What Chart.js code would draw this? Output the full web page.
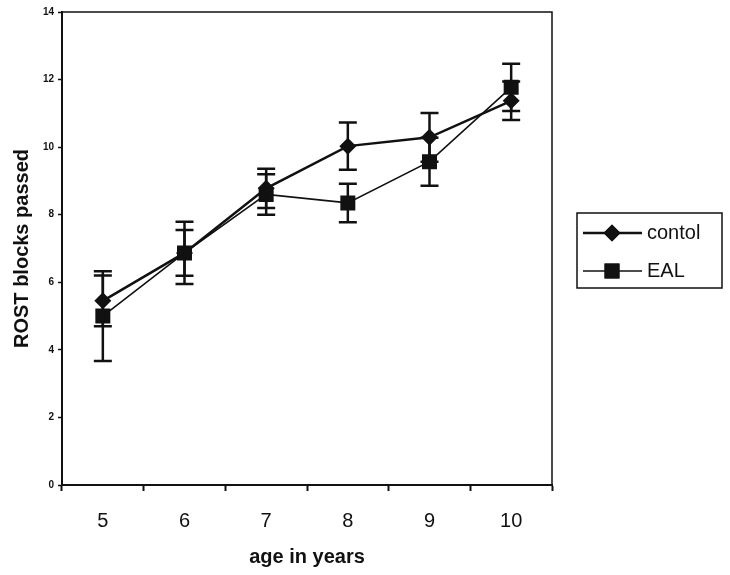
<!DOCTYPE html>
<html>
<head>
<meta charset="utf-8">
<script src="https://cdn.jsdelivr.net/npm/chart.js@4.4.1/dist/chart.umd.min.js"></script>
<style>
  html, body { margin: 0; padding: 0; background: #fff; }
  #wrap { width: 730px; height: 575px; }
</style>
</head>
<body>
<div id="wrap"><canvas id="myChart" width="730" height="575"></canvas></div>
<script>
var ages = ['5', '6', '7', '8', '9', '10'];
var controlMean = [5.45, 6.87, 8.78, 10.03, 10.29, 11.37];
var controlErr = [0.75, 0.92, 0.58, 0.70, 0.72, 0.57];
var ealMean = [5.0, 6.87, 8.6, 8.35, 9.57, 11.77];
var ealErr = [1.33, 0.68, 0.6, 0.57, 0.71, 0.7];
var yTicks = [0, 2, 4, 6, 8, 10, 12, 14];

var errs = [controlErr, ealErr];

// error bars + plot frame
var errorBars = {
   id: 'errorBars',
   afterDatasetsDraw: function(chart) {
      var ctx = chart.ctx;
      var x = chart.scales.x, y = chart.scales.y;
      var a = chart.chartArea;
      ctx.save();
      ctx.strokeStyle = '#111';
      ctx.lineWidth = 2.5;
      chart.data.datasets.forEach(function(ds, i) {
         ds.data.forEach(function(v, j) {
            var px = x.getPixelForValue(j);
            var top = y.getPixelForValue(v + errs[i][j]);
            var bot = y.getPixelForValue(v - errs[i][j]);
            ctx.beginPath();
            ctx.moveTo(px, top); ctx.lineTo(px, bot);
            ctx.moveTo(px - 9, top); ctx.lineTo(px + 9, top);
            ctx.moveTo(px - 9, bot); ctx.lineTo(px + 9, bot);
            ctx.stroke();
         });
      });
      ctx.lineWidth = 1.5;
      ctx.beginPath();
      ctx.moveTo(a.left, a.top); ctx.lineTo(a.right, a.top); ctx.lineTo(a.right, a.bottom);
      ctx.stroke();
      ctx.restore();
   }
};

// boxed legend on the right
var boxLegend = {
   id: 'boxLegend',
   afterDraw: function(chart) {
      var ctx = chart.ctx;
      ctx.save();
      ctx.strokeStyle = '#111';
      ctx.lineWidth = 1.5;
      ctx.strokeRect(577, 213, 145, 75);
      var rows = [233, 271];
      chart.data.datasets.forEach(function(ds, i) {
         var yy = rows[i];
         ctx.lineWidth = ds.borderWidth;
         ctx.beginPath();
         ctx.moveTo(583, yy); ctx.lineTo(642, yy);
         ctx.stroke();
         Chart.helpers.drawPoint(ctx, {
            pointStyle: ds.pointStyle,
            radius: ds.pointRadius,
            borderWidth: 0
         }, 612, yy);
         ctx.fillStyle = '#111';
         ctx.fill();
         ctx.font = '20px "Liberation Sans", Arial, sans-serif';
         ctx.textBaseline = 'middle';
         ctx.fillText(ds.label, 647, yy);
      });
      ctx.restore();
   }
};

var ctx = document.getElementById('myChart').getContext('2d');
new Chart(ctx, {
   type: 'line',
   data: {
      labels: ages,
      datasets: [
         {
            label: 'contol', data: controlMean,
            borderColor: '#111', backgroundColor: '#111', borderWidth: 2.5,
            pointStyle: 'rectRot', pointRadius: 8.5, pointBorderWidth: 0
         },
         {
            label: 'EAL', data: ealMean,
            borderColor: '#111', backgroundColor: '#111', borderWidth: 1.6,
            pointStyle: 'rect', pointRadius: 10.6, pointBorderWidth: 0
         }
      ]
   },
   options: {
      responsive: false,
      animation: false,
      layout: { padding: { top: 12, right: 178, left: 0, bottom: 0 } },
      plugins: { legend: { display: false }, tooltip: { enabled: false } },
      scales: {
         x: {
            offset: true,
            grid: { offset: true, drawOnChartArea: false, color: '#111', tickLength: 6, tickWidth: 2 },
            border: { color: '#111', width: 2 },
            ticks: { color: '#111', padding: 18, font: { family: '"Liberation Sans", Arial, sans-serif', size: 20 } },
            title: {
               display: true, text: 'age in years', color: '#111',
               font: { family: '"Liberation Sans", Arial, sans-serif', size: 20, weight: 'bold' },
               padding: { top: 0, bottom: 6 }
            },
            afterFit: function(s) { s.height = 90; }
         },
         y: {
            min: 0, max: 14,
            afterBuildTicks: function(s) { s.ticks = yTicks.map(function(v) { return { value: v }; }); },
            grid: { drawOnChartArea: false, color: '#111', tickLength: 4, tickWidth: 1.5 },
            border: { color: '#111', width: 2 },
            ticks: { color: '#111', padding: 4, font: { family: '"Liberation Sans", Arial, sans-serif', size: 10, weight: 'bold' } },
            title: {
               display: true, text: 'ROST blocks passed', color: '#111',
               font: { family: '"Liberation Sans", Arial, sans-serif', size: 20, weight: 'bold' },
               padding: { top: 10, bottom: 0 }
            },
            afterFit: function(s) { s.width = 62; }
         }
      }
   },
   plugins: [errorBars, boxLegend]
});
</script>
</body>
</html>
